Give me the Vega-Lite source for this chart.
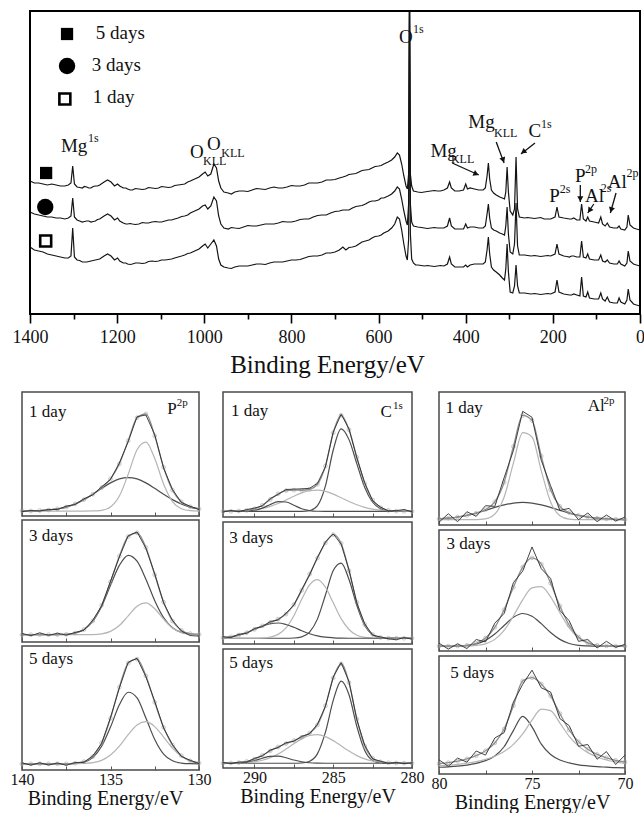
{
"$schema":"https://vega.github.io/schema/vega-lite/v6.json",
"padding":{"left":9,"top":10,"right":0,"bottom":0},
"config":{"font":"Liberation Serif, Times New Roman, Times, DejaVu Serif, serif","view":{"stroke":null},
 "axis":{"labelFont":"Liberation Serif, Times New Roman, Times, DejaVu Serif, serif","titleFont":"Liberation Serif, Times New Roman, Times, DejaVu Serif, serif","labelColor":"#111","titleColor":"#111","titleFontWeight":"normal","grid":false,"labelFlush":false},
 "text":{"font":"Liberation Serif, Times New Roman, Times, DejaVu Serif, serif","color":"#111"}},
"datasets":{
"survey":[
{"e":1400,"d5":133,"d3":102,"d1":67},{"e":1390,"d5":131,"d3":100,"d1":64},{"e":1380,"d5":131,"d3":99,"d1":63},{"e":1370,"d5":130,"d3":98,"d1":62},{"e":1360,"d5":129,"d3":97,"d1":60},{"e":1350,"d5":130,"d3":97,"d1":59},{"e":1340,"d5":129,"d3":96,"d1":58},{"e":1330,"d5":128,"d3":96,"d1":57},{"e":1320,"d5":128,"d3":95,"d1":56},{"e":1312,"d5":129,"d3":96,"d1":56},{"e":1306,"d5":131,"d3":98,"d1":58},{"e":1302,"d5":148,"d3":116,"d1":86},{"e":1298,"d5":130,"d3":97,"d1":57},{"e":1292,"d5":127,"d3":94,"d1":54},{"e":1280,"d5":126,"d3":92,"d1":52},{"e":1270,"d5":127,"d3":93,"d1":52},{"e":1260,"d5":126,"d3":92,"d1":53},{"e":1250,"d5":128,"d3":93,"d1":54},{"e":1240,"d5":129,"d3":95,"d1":55},{"e":1230,"d5":132,"d3":98,"d1":58},{"e":1222,"d5":134,"d3":100,"d1":60},{"e":1214,"d5":132,"d3":98,"d1":58},{"e":1206,"d5":128,"d3":94,"d1":54},{"e":1199,"d5":130,"d3":96,"d1":56},{"e":1194,"d5":128,"d3":93,"d1":53},{"e":1186,"d5":126,"d3":91,"d1":51},{"e":1176,"d5":125,"d3":90,"d1":50},{"e":1165,"d5":124,"d3":90,"d1":50},{"e":1150,"d5":125,"d3":90,"d1":51},{"e":1135,"d5":125,"d3":91,"d1":51},{"e":1120,"d5":126,"d3":92,"d1":53},{"e":1105,"d5":126,"d3":92,"d1":53},{"e":1090,"d5":127,"d3":93,"d1":54},{"e":1075,"d5":127,"d3":94,"d1":55},{"e":1060,"d5":129,"d3":96,"d1":57},{"e":1045,"d5":130,"d3":98,"d1":59},{"e":1032,"d5":133,"d3":101,"d1":61},{"e":1022,"d5":135,"d3":103,"d1":63},{"e":1012,"d5":137,"d3":105,"d1":65},{"e":1004,"d5":140,"d3":108,"d1":68},{"e":998,"d5":142,"d3":109,"d1":70},{"e":992,"d5":138,"d3":105,"d1":66},{"e":985,"d5":140,"d3":108,"d1":70},{"e":978,"d5":150,"d3":117,"d1":74},{"e":972,"d5":146,"d3":113,"d1":68},{"e":967,"d5":133,"d3":98,"d1":55},{"e":962,"d5":126,"d3":90,"d1":49},{"e":955,"d5":122,"d3":86,"d1":47},{"e":945,"d5":121,"d3":85,"d1":46},{"e":930,"d5":122,"d3":86,"d1":47},{"e":910,"d5":123,"d3":87,"d1":48},{"e":890,"d5":124,"d3":88,"d1":49},{"e":870,"d5":125,"d3":89,"d1":50},{"e":850,"d5":126,"d3":90,"d1":51},{"e":830,"d5":126,"d3":91,"d1":52},{"e":810,"d5":127,"d3":92,"d1":53},{"e":790,"d5":128,"d3":93,"d1":54},{"e":770,"d5":129,"d3":95,"d1":56},{"e":750,"d5":131,"d3":97,"d1":58},{"e":730,"d5":132,"d3":99,"d1":59},{"e":710,"d5":134,"d3":101,"d1":61},{"e":690,"d5":136,"d3":103,"d1":64},{"e":682,"d5":137,"d3":104,"d1":67},{"e":675,"d5":138,"d3":104,"d1":64},{"e":660,"d5":140,"d3":106,"d1":67},{"e":645,"d5":142,"d3":108,"d1":70},{"e":630,"d5":144,"d3":110,"d1":73},{"e":615,"d5":146,"d3":113,"d1":76},{"e":600,"d5":148,"d3":114,"d1":78},{"e":588,"d5":150,"d3":116,"d1":81},{"e":578,"d5":152,"d3":118,"d1":83},{"e":570,"d5":154,"d3":120,"d1":86},{"e":563,"d5":157,"d3":123,"d1":90},{"e":557,"d5":161,"d3":127,"d1":97},{"e":552,"d5":159,"d3":125,"d1":95},{"e":547,"d5":150,"d3":115,"d1":84},{"e":542,"d5":138,"d3":103,"d1":70},{"e":537,"d5":128,"d3":93,"d1":58},{"e":534,"d5":125,"d3":89,"d1":54},{"e":531,"d5":140,"d3":110,"d1":75},{"e":529,"d5":320,"d3":320,"d1":320},{"e":527,"d5":140,"d3":110,"d1":80},{"e":524,"d5":128,"d3":92,"d1":55},{"e":520,"d5":123,"d3":88,"d1":51},{"e":510,"d5":122,"d3":87,"d1":49},{"e":495,"d5":122,"d3":86,"d1":48},{"e":480,"d5":123,"d3":86,"d1":48},{"e":465,"d5":123,"d3":86,"d1":48},{"e":450,"d5":124,"d3":86,"d1":48},{"e":442,"d5":126,"d3":88,"d1":50},{"e":437,"d5":132,"d3":96,"d1":57},{"e":433,"d5":126,"d3":88,"d1":50},{"e":425,"d5":123,"d3":85,"d1":47},{"e":415,"d5":123,"d3":85,"d1":47},{"e":405,"d5":124,"d3":85,"d1":47},{"e":400,"d5":130,"d3":90,"d1":49},{"e":396,"d5":125,"d3":86,"d1":47},{"e":390,"d5":126,"d3":87,"d1":49},{"e":380,"d5":125,"d3":87,"d1":50},{"e":370,"d5":124,"d3":86,"d1":50},{"e":360,"d5":124,"d3":86,"d1":50},{"e":355,"d5":126,"d3":88,"d1":52},{"e":351,"d5":138,"d3":100,"d1":64},{"e":348,"d5":151,"d3":110,"d1":77},{"e":345,"d5":135,"d3":96,"d1":60},{"e":341,"d5":124,"d3":86,"d1":47},{"e":336,"d5":121,"d3":84,"d1":44},{"e":330,"d5":119,"d3":83,"d1":42},{"e":322,"d5":117,"d3":81,"d1":39},{"e":316,"d5":116,"d3":80,"d1":36},{"e":311,"d5":115,"d3":79,"d1":34},{"e":308,"d5":122,"d3":88,"d1":45},{"e":305,"d5":147,"d3":107,"d1":70},{"e":302,"d5":122,"d3":80,"d1":42},{"e":298,"d5":103,"d3":62,"d1":22},{"e":292,"d5":99,"d3":60,"d1":21},{"e":288,"d5":105,"d3":70,"d1":28},{"e":284.5,"d5":157,"d3":111,"d1":49},{"e":281,"d5":105,"d3":68,"d1":28},{"e":277,"d5":97,"d3":59,"d1":21},{"e":265,"d5":96,"d3":59,"d1":21},{"e":250,"d5":96,"d3":58,"d1":20},{"e":235,"d5":96,"d3":58,"d1":20},{"e":220,"d5":95,"d3":58,"d1":20},{"e":205,"d5":95,"d3":58,"d1":20},{"e":195,"d5":97,"d3":60,"d1":22},{"e":190.5,"d5":107,"d3":70,"d1":34},{"e":186,"d5":97,"d3":60,"d1":22},{"e":175,"d5":96,"d3":58,"d1":20},{"e":162,"d5":95,"d3":57,"d1":19},{"e":152,"d5":96,"d3":58,"d1":20},{"e":145,"d5":94,"d3":57,"d1":19},{"e":138,"d5":94,"d3":57,"d1":18},{"e":134,"d5":110,"d3":73,"d1":37},{"e":130,"d5":95,"d3":57,"d1":18},{"e":124,"d5":93,"d3":56,"d1":17},{"e":120,"d5":97,"d3":60,"d1":22},{"e":116,"d5":93,"d3":55,"d1":16},{"e":105,"d5":92,"d3":54,"d1":15},{"e":95,"d5":91,"d3":54,"d1":15},{"e":90,"d5":97,"d3":59,"d1":21},{"e":86,"d5":90,"d3":53,"d1":15},{"e":80,"d5":88,"d3":52,"d1":13},{"e":75,"d5":91,"d3":54,"d1":17},{"e":70,"d5":87,"d3":51,"d1":12},{"e":60,"d5":86,"d3":50,"d1":11},{"e":52,"d5":86,"d3":50,"d1":11},{"e":48,"d5":88,"d3":53,"d1":16},{"e":44,"d5":85,"d3":50,"d1":12},{"e":35,"d5":84,"d3":48,"d1":10},{"e":30,"d5":87,"d3":51,"d1":14},{"e":27,"d5":99,"d3":63,"d1":25},{"e":23,"d5":89,"d3":53,"d1":14},{"e":15,"d5":86,"d3":50,"d1":10},{"e":8,"d5":85,"d3":49,"d1":9},{"e":0,"d5":84,"d3":48,"d1":8},
{"e":938,"d5":120,"d3":86.5,"d1":45.5},{"e":920,"d5":123,"d3":85.5,"d1":48},{"e":900,"d5":122.5,"d3":88.5,"d1":48},{"e":880,"d5":125.5,"d3":88,"d1":50},{"e":860,"d5":124.5,"d3":90,"d1":49.5},{"e":840,"d5":127,"d3":90,"d1":52},{"e":820,"d5":126,"d3":92.5,"d1":52},{"e":800,"d5":128.5,"d3":92,"d1":54},{"e":780,"d5":128,"d3":94.5,"d1":54.5},{"e":760,"d5":131,"d3":95,"d1":57.5},{"e":740,"d5":131,"d3":98.5,"d1":58},{"e":720,"d5":134,"d3":99,"d1":61},{"e":700,"d5":134.5,"d3":102.5,"d1":62},{"e":668,"d5":139.5,"d3":104,"d1":66.5},{"e":652,"d5":140.5,"d3":107.5,"d1":68},{"e":638,"d5":143.5,"d3":108.5,"d1":72},{"e":622,"d5":144.5,"d3":112,"d1":74},{"e":608,"d5":147.5,"d3":113,"d1":77.5},{"e":594,"d5":148.5,"d3":116,"d1":79},
{"e":1180,"d5":126,"d3":90,"d1":51},{"e":1170,"d5":124,"d3":90.5,"d1":49.5},{"e":1158,"d5":125.5,"d3":89.5,"d1":51},{"e":1142,"d5":124.5,"d3":91.5,"d1":50.5},{"e":1128,"d5":126.5,"d3":91,"d1":52.5},{"e":1112,"d5":125.5,"d3":92.5,"d1":52.5},{"e":1098,"d5":127.5,"d3":92,"d1":54},{"e":1082,"d5":126.5,"d3":94,"d1":54.5},{"e":1068,"d5":128.5,"d3":95,"d1":56},{"e":1052,"d5":129.5,"d3":97.5,"d1":58},{"e":1038,"d5":132,"d3":99,"d1":60.5},
{"e":1286,"d5":126.5,"d3":93,"d1":53.5},{"e":1275,"d5":127.5,"d3":92.5,"d1":52},{"e":1265,"d5":126,"d3":93,"d1":52.5},{"e":1255,"d5":127.5,"d3":92.5,"d1":53.5},{"e":1245,"d5":128,"d3":94.5,"d1":54.5},
{"e":515,"d5":122.5,"d3":87.5,"d1":49},{"e":502,"d5":121.5,"d3":86.5,"d1":48.5},{"e":488,"d5":122.5,"d3":85.5,"d1":48.5},{"e":472,"d5":123.5,"d3":86.5,"d1":47.5},{"e":458,"d5":123,"d3":86,"d1":48.5},
{"e":258,"d5":96.5,"d3":58.5,"d1":20.5},{"e":242,"d5":95.5,"d3":58.5,"d1":20.5},{"e":228,"d5":96.5,"d3":57.5,"d1":19.5},{"e":212,"d5":95,"d3":58.5,"d1":20.5},{"e":168,"d5":95.5,"d3":57.5,"d1":19.5},{"e":157,"d5":95,"d3":58,"d1":19}
],
"lbl":[
{"e":1249,"y":275,"t":"5 days","k":"m"},{"e":1258,"y":243,"t":"3 days","k":"m"},{"e":1256,"y":211,"t":"1 day","k":"m"},
{"e":1329,"y":162,"t":"Mg","k":"m"},{"e":1267,"y":172,"t":"1s","k":"s"},
{"e":1033,"y":156,"t":"O","k":"m"},{"e":1003,"y":149,"t":"KLL","k":"s"},
{"e":994,"y":164,"t":"O","k":"m"},{"e":961,"y":157,"t":"KLL","k":"s"},
{"e":553,"y":271,"t":"O","k":"m"},{"e":521,"y":281,"t":"1s","k":"s"},
{"e":481,"y":157,"t":"Mg","k":"m"},{"e":434,"y":151,"t":"KLL","k":"s"},
{"e":394,"y":186,"t":"Mg","k":"m"},{"e":335,"y":177,"t":"KLL","k":"s"},
{"e":256,"y":177,"t":"C","k":"m"},{"e":227,"y":186,"t":"1s","k":"s"},
{"e":208,"y":112,"t":"P","k":"m"},{"e":184,"y":121,"t":"2s","k":"s"},
{"e":149,"y":132,"t":"P","k":"m"},{"e":126,"y":141,"t":"2p","k":"s"},
{"e":126,"y":112,"t":"Al","k":"m"},{"e":90,"y":122,"t":"2s","k":"s"},
{"e":74,"y":126,"t":"Al","k":"m"},{"e":31,"y":137,"t":"2p","k":"s"}
],
"sym":[
{"e":1315,"y":280,"k":"fsq"},{"e":1315,"y":248,"k":"fci"},{"e":1320,"y":215,"k":"osq"},
{"e":1363,"y":141,"k":"fsq"},{"e":1365,"y":107,"k":"fci"},{"e":1364,"y":73,"k":"osq"}
],
"arr":[
{"e":431,"y":151,"e2":370,"y2":139,"he":376,"hy":140,"ang":114},
{"e":330,"y":172,"e2":312,"y2":151,"he":314,"hy":154,"ang":160},
{"e":241,"y":171,"e2":273,"y2":160,"he":268,"hy":162,"ang":233},
{"e":137,"y":129,"e2":137,"y2":112,"he":137,"hy":115,"ang":180},
{"e":106,"y":110,"e2":120,"y2":101,"he":116,"hy":103.5,"ang":214},
{"e":55,"y":121,"e2":68,"y2":101,"he":66,"hy":104,"ang":196}
],
"P1":[
{"e":140,"raw":3.5,"env":4.1,"dk":4.1,"lt":4},{"e":139.5,"raw":4.4,"env":4.1,"dk":4.1,"lt":4},{"e":139,"raw":4.0,"env":4.4,"dk":4.4,"lt":4},{"e":138.5,"raw":5.3,"env":4.8,"dk":4.8,"lt":4},{"e":138,"raw":5.2,"env":5.7,"dk":5.7,"lt":4},{"e":137.5,"raw":8.0,"env":7.2,"dk":7.2,"lt":4},{"e":137,"raw":9.2,"env":9.7,"dk":9.7,"lt":4},{"e":136.5,"raw":13.9,"env":13.2,"dk":13.2,"lt":4},{"e":136,"raw":17.0,"env":17.6,"dk":17.5,"lt":4.1},{"e":135.5,"raw":23.6,"env":22.9,"dk":22.3,"lt":4.6},{"e":135,"raw":29.4,"env":30.0,"dk":26.7,"lt":7.3},{"e":134.5,"raw":42.8,"env":42.0,"dk":29.9,"lt":16.1},{"e":134,"raw":60.0,"env":60.7,"dk":31.0,"lt":33.7},{"e":133.5,"raw":80.1,"env":79.3,"dk":29.9,"lt":53.4},{"e":133,"raw":81.5,"env":82.3,"dk":26.7,"lt":59.6},{"e":132.5,"raw":65.5,"env":64.6,"dk":22.3,"lt":46.3},{"e":132,"raw":38.6,"env":39.3,"dk":17.5,"lt":25.8},{"e":131.5,"raw":21.5,"env":20.8,"dk":13.2,"lt":11.6},{"e":131,"raw":10.9,"env":11.5,"dk":9.7,"lt":5.8},{"e":130.5,"raw":7.9,"env":7.5,"dk":7.2,"lt":4.3},{"e":130,"raw":5.2,"env":5.7,"dk":5.7,"lt":4}
],
"P3":[
{"e":140,"raw":7.0,"env":6,"dk":6,"lt":6},{"e":139.5,"raw":5.2,"env":6,"dk":6,"lt":6},{"e":139,"raw":7.5,"env":6,"dk":6,"lt":6},{"e":138.5,"raw":5.5,"env":6,"dk":6,"lt":6},{"e":138,"raw":7.2,"env":6.1,"dk":6.1,"lt":6},{"e":137.5,"raw":5.6,"env":6.3,"dk":6.3,"lt":6},{"e":137,"raw":7.8,"env":7.3,"dk":7.3,"lt":6},{"e":136.5,"raw":9.6,"env":10.2,"dk":10.2,"lt":6},{"e":136,"raw":17.9,"env":17.2,"dk":17.1,"lt":6.1},{"e":135.5,"raw":29.5,"env":30.1,"dk":29.4,"lt":6.7},{"e":135,"raw":49.9,"env":49.2,"dk":46.5,"lt":8.7},{"e":134.5,"raw":69.6,"env":70.3,"dk":62.8,"lt":13.5},{"e":134,"raw":87.1,"env":86.4,"dk":71,"lt":21.4},{"e":133.5,"raw":90.2,"env":89.5,"dk":66.2,"lt":29.3},{"e":133,"raw":76.8,"env":77.5,"dk":51.5,"lt":32},{"e":132.5,"raw":55.9,"env":55.1,"dk":33.9,"lt":27.2},{"e":132,"raw":32.0,"env":32.7,"dk":20,"lt":18.7},{"e":131.5,"raw":17.9,"env":17.2,"dk":11.7,"lt":11.5},{"e":131,"raw":9.0,"env":9.7,"dk":7.9,"lt":7.8},{"e":130.5,"raw":5.3,"env":6.9,"dk":6.5,"lt":6.4},{"e":130,"raw":4.8,"env":6.2,"dk":6.1,"lt":6.1}
],
"P5":[
{"e":140,"raw":5.8,"env":5,"dk":5,"lt":5},{"e":139.5,"raw":3.9,"env":5,"dk":5,"lt":5},{"e":139,"raw":5.9,"env":5,"dk":5,"lt":5},{"e":138.5,"raw":4.0,"env":5,"dk":5,"lt":5},{"e":138,"raw":5.7,"env":5,"dk":5,"lt":5},{"e":137.5,"raw":3.8,"env":5,"dk":5,"lt":5},{"e":137,"raw":6.0,"env":5.4,"dk":5.3,"lt":5.1},{"e":136.5,"raw":6.2,"env":6.7,"dk":6.4,"lt":5.3},{"e":136,"raw":11.5,"env":10.9,"dk":10,"lt":5.9},{"e":135.5,"raw":21.3,"env":21.9,"dk":19.1,"lt":7.8},{"e":135,"raw":42.4,"env":41.7,"dk":34.6,"lt":12.1},{"e":134.5,"raw":66.1,"env":66.8,"dk":52.6,"lt":19.2},{"e":134,"raw":86.9,"env":86.2,"dk":62.7,"lt":28.5},{"e":133.5,"raw":90.1,"env":89.4,"dk":58.1,"lt":36.3},{"e":133,"raw":75.2,"env":75.9,"dk":41.9,"lt":39},{"e":132.5,"raw":55.3,"env":54.6,"dk":24.6,"lt":35},{"e":132,"raw":33.8,"env":34.4,"dk":12.8,"lt":26.6},{"e":131.5,"raw":20.6,"env":20.0,"dk":7.4,"lt":17.6},{"e":131,"raw":11.0,"env":11.6,"dk":5.6,"lt":11},{"e":130.5,"raw":7.9,"env":7.4,"dk":5.1,"lt":7.3},{"e":130,"raw":5.2,"env":5.7,"dk":5,"lt":5.7}
],
"C1":[
{"e":292,"raw":4.0,"env":4.5,"dk":4.5,"lt":4.5,"dk2":4.5},{"e":291.5,"raw":5.2,"env":4.6,"dk":4.5,"lt":4.6,"dk2":4.5},{"e":291,"raw":4.3,"env":4.8,"dk":4.5,"lt":4.8,"dk2":4.5},{"e":290.5,"raw":5.9,"env":5.3,"dk":4.5,"lt":5.1,"dk2":4.7},{"e":290,"raw":7.2,"env":6.5,"dk":4.5,"lt":5.7,"dk2":5.3},{"e":289.5,"raw":8.8,"env":9.4,"dk":4.5,"lt":6.8,"dk2":7.1},{"e":289,"raw":14.8,"env":14.0,"dk":4.5,"lt":8.5,"dk2":10.0},{"e":288.5,"raw":18.0,"env":18.6,"dk":4.5,"lt":10.8,"dk2":12.3},{"e":288,"raw":22.0,"env":21.1,"dk":4.5,"lt":13.6,"dk2":12.0},{"e":287.5,"raw":22.3,"env":21.5,"dk":4.5,"lt":16.6,"dk2":9.4},{"e":287,"raw":22.5,"env":21.4,"dk":4.5,"lt":19.3,"dk2":6.6},{"e":286.5,"raw":23.0,"env":22.2,"dk":5.1,"lt":21.0,"dk2":5.1},{"e":286,"raw":27.0,"env":26.2,"dk":9.1,"lt":21.5,"dk2":4.6},{"e":285.5,"raw":40.0,"env":40.7,"dk":24.7,"lt":20.5,"dk2":4.5},{"e":285,"raw":68.1,"env":67.4,"dk":53.6,"lt":18.3,"dk2":4.5},{"e":284.5,"raw":82.2,"env":81.4,"dk":70.5,"lt":15.4,"dk2":4.5},{"e":284,"raw":70.5,"env":69.8,"dk":61.9,"lt":12.4,"dk2":4.5},{"e":283.5,"raw":47.1,"env":47.8,"dk":42.5,"lt":9.8,"dk2":4.5},{"e":283,"raw":27.4,"env":26.7,"dk":23.5,"lt":7.7,"dk2":4.5},{"e":282.5,"raw":13.0,"env":13.6,"dk":11.8,"lt":6.3,"dk2":4.5},{"e":282,"raw":8.0,"env":7.5,"dk":6.6,"lt":5.4,"dk2":4.5},{"e":281.5,"raw":4.8,"env":5.3,"dk":4.9,"lt":4.9,"dk2":4.5},{"e":281,"raw":5.1,"env":4.7,"dk":4.5,"lt":4.7,"dk2":4.5},{"e":280.5,"raw":6.0,"env":4.6,"dk":4.5,"lt":4.6,"dk2":4.5},{"e":280,"raw":4.2,"env":4.5,"dk":4.5,"lt":4.5,"dk2":4.5}
],
"C3":[
{"e":292,"raw":6.0,"env":5.2,"dk":4.7,"lt":4.7,"dk2":5.2},{"e":291.5,"raw":5.3,"env":5.9,"dk":4.7,"lt":4.7,"dk2":5.9},{"e":291,"raw":8.0,"env":7.3,"dk":4.7,"lt":4.7,"dk2":7.3},{"e":290.5,"raw":8.6,"env":9.3,"dk":4.7,"lt":4.7,"dk2":9.3},{"e":290,"raw":12.8,"env":12.0,"dk":4.7,"lt":4.7,"dk2":12.0},{"e":289.5,"raw":14.2,"env":14.9,"dk":4.7,"lt":4.9,"dk2":14.7},{"e":289,"raw":18.5,"env":17.6,"dk":4.7,"lt":5.6,"dk2":16.7},{"e":288.5,"raw":19.6,"env":20.4,"dk":4.7,"lt":7.9,"dk2":17.2},{"e":288,"raw":25.3,"env":24.5,"dk":4.7,"lt":13.2,"dk2":16.0},{"e":287.5,"raw":31.7,"env":32.4,"dk":4.9,"lt":23.2,"dk2":13.7},{"e":287,"raw":44.8,"env":44.0,"dk":5.9,"lt":36.6,"dk2":10.9},{"e":286.5,"raw":56.6,"env":57.3,"dk":9.8,"lt":48.5,"dk2":8.4},{"e":286,"raw":71.2,"env":70.5,"dk":20.6,"lt":52.7,"dk2":6.6},{"e":285.5,"raw":83.6,"env":82.8,"dk":40.0,"lt":46.6,"dk2":5.6},{"e":285,"raw":90.3,"env":89.7,"dk":60.2,"lt":33.8,"dk2":5.1},{"e":284.5,"raw":81.8,"env":82.5,"dk":66.3,"lt":20.8,"dk2":4.8},{"e":284,"raw":60.8,"env":60.1,"dk":52.9,"lt":11.9,"dk2":4.7},{"e":283.5,"raw":33.4,"env":34.1,"dk":31.6,"lt":7.2,"dk2":4.7},{"e":283,"raw":16.6,"env":15.9,"dk":15.2,"lt":5.4,"dk2":4.7},{"e":282.5,"raw":7.2,"env":7.8,"dk":7.6,"lt":4.9,"dk2":4.7},{"e":282,"raw":5.9,"env":5.3,"dk":5.3,"lt":4.7,"dk2":4.7},{"e":281.5,"raw":4.2,"env":4.8,"dk":4.8,"lt":4.7,"dk2":4.7},{"e":281,"raw":3.5,"env":4.7,"dk":4.7,"lt":4.7,"dk2":4.7},{"e":280.5,"raw":5.2,"env":4.7,"dk":4.7,"lt":4.7,"dk2":4.7},{"e":280,"raw":4.0,"env":4.7,"dk":4.7,"lt":4.7,"dk2":4.7}
],
"C5":[
{"e":292,"raw":4.6,"env":4,"dk":4,"lt":4,"dk2":4},{"e":291.5,"raw":3.7,"env":4.2,"dk":4,"lt":4.1,"dk2":4.1},{"e":291,"raw":5.0,"env":4.5,"dk":4,"lt":4.2,"dk2":4.3},{"e":290.5,"raw":5.0,"env":5.5,"dk":4,"lt":4.5,"dk2":5.0},{"e":290,"raw":8.1,"env":7.5,"dk":4,"lt":5.2,"dk2":6.3},{"e":289.5,"raw":10.1,"env":10.7,"dk":4,"lt":6.5,"dk2":8.2},{"e":289,"raw":15.1,"env":14.4,"dk":4,"lt":8.7,"dk2":9.7},{"e":288.5,"raw":17.1,"env":17.7,"dk":4,"lt":11.8,"dk2":9.9},{"e":288,"raw":21.3,"env":20.5,"dk":4,"lt":15.9,"dk2":8.6},{"e":287.5,"raw":22.4,"env":23.1,"dk":4,"lt":20.4,"dk2":6.7},{"e":287,"raw":26.7,"env":25.9,"dk":4.2,"lt":24.5,"dk2":5.2},{"e":286.5,"raw":28.7,"env":29.4,"dk":5.7,"lt":27.3,"dk2":4.4},{"e":286,"raw":37.0,"env":36.2,"dk":12.1,"lt":28,"dk2":4.1},{"e":285.5,"raw":51.6,"env":52.3,"dk":29.9,"lt":26.4,"dk2":4},{"e":285,"raw":76.5,"env":75.8,"dk":56.8,"lt":23,"dk2":4},{"e":284.5,"raw":88.5,"env":87.6,"dk":73,"lt":18.6,"dk2":4},{"e":284,"raw":72.6,"env":71.8,"dk":61.6,"lt":14.2,"dk2":4},{"e":283.5,"raw":40.4,"env":41.2,"dk":34.8,"lt":10.4,"dk2":4},{"e":283,"raw":19.1,"env":18.4,"dk":14.7,"lt":7.7,"dk2":4},{"e":282.5,"raw":7.6,"env":8.2,"dk":6.3,"lt":5.9,"dk2":4},{"e":282,"raw":5.8,"env":5.2,"dk":4.3,"lt":4.9,"dk2":4},{"e":281.5,"raw":3.9,"env":4.4,"dk":4,"lt":4.4,"dk2":4},{"e":281,"raw":4.6,"env":4.2,"dk":4,"lt":4.2,"dk2":4},{"e":280.5,"raw":3.7,"env":4.1,"dk":4,"lt":4.1,"dk2":4},{"e":280,"raw":4.3,"env":4,"dk":4,"lt":4,"dk2":4}
],
"A1":[
{"e":80,"raw":2.0,"env":4.6,"dk":4.6,"lt":4},{"e":79.5,"raw":8.5,"env":5.1,"dk":5.1,"lt":4},{"e":79,"raw":2.5,"env":6.0,"dk":6.0,"lt":4},{"e":78.5,"raw":10.0,"env":7.2,"dk":7.2,"lt":4},{"e":78,"raw":6.5,"env":8.9,"dk":8.9,"lt":4},{"e":77.5,"raw":14.5,"env":11.6,"dk":11.0,"lt":4.6},{"e":77,"raw":14.0,"env":17.4,"dk":13.2,"lt":8.2},{"e":76.5,"raw":35.5,"env":32.0,"dk":15.1,"lt":20.9},{"e":76,"raw":56.0,"env":59.0,"dk":16.5,"lt":46.5},{"e":75.5,"raw":85.5,"env":82.4,"dk":17,"lt":69.4},{"e":75,"raw":81.0,"env":78.7,"dk":16.5,"lt":66.2},{"e":74.5,"raw":48.5,"env":51.8,"dk":15.1,"lt":40.7},{"e":74,"raw":29.5,"env":26.5,"dk":13.2,"lt":17.3},{"e":73.5,"raw":11.0,"env":14.0,"dk":11.0,"lt":7.0},{"e":73,"raw":12.5,"env":9.3,"dk":8.9,"lt":4.4},{"e":72.5,"raw":4.0,"env":7.2,"dk":7.2,"lt":4},{"e":72,"raw":9.0,"env":6.0,"dk":6.0,"lt":4},{"e":71.5,"raw":2.5,"env":5.1,"dk":5.1,"lt":4},{"e":71,"raw":7.5,"env":4.6,"dk":4.6,"lt":4},{"e":70.5,"raw":3.0,"env":4.3,"dk":4.3,"lt":4},{"e":70,"raw":6.0,"env":4.1,"dk":4.1,"lt":4}
],
"A3":[
{"e":80,"raw":6.5,"env":4,"dk":4,"lt":4},{"e":79.5,"raw":1.5,"env":4,"dk":4,"lt":4},{"e":79,"raw":6.0,"env":4.1,"dk":4.1,"lt":4},{"e":78.5,"raw":2.0,"env":4.7,"dk":4.6,"lt":4.1},{"e":78,"raw":9.5,"env":6.4,"dk":5.8,"lt":4.6},{"e":77.5,"raw":7.5,"env":10.7,"dk":8.8,"lt":5.9},{"e":77,"raw":23.0,"env":19.6,"dk":14.0,"lt":9.6},{"e":76.5,"raw":31.0,"env":34.1,"dk":21.1,"lt":17.0},{"e":76,"raw":56.5,"env":52.7,"dk":27.8,"lt":28.9},{"e":75.5,"raw":66.0,"env":69.3,"dk":31,"lt":42.3},{"e":75,"raw":86.0,"env":77.0,"dk":28.8,"lt":52.2},{"e":74.5,"raw":68.0,"env":71.8,"dk":22.6,"lt":53.2},{"e":74,"raw":60.0,"env":56.1,"dk":15.3,"lt":44.8},{"e":73.5,"raw":33.5,"env":37.2,"dk":9.6,"lt":31.6},{"e":73,"raw":25.0,"env":21.3,"dk":6.2,"lt":19.1},{"e":72.5,"raw":8.0,"env":11.5,"dk":4.7,"lt":10.8},{"e":72,"raw":9.5,"env":6.7,"dk":4.2,"lt":6.5},{"e":71.5,"raw":2.5,"env":4.7,"dk":4,"lt":4.7},{"e":71,"raw":8.0,"env":4.2,"dk":4,"lt":4.2},{"e":70.5,"raw":3.0,"env":4,"dk":4,"lt":4},{"e":70,"raw":5.5,"env":4,"dk":4,"lt":4}
],
"A5":[
{"e":80,"raw":12.0,"env":8.7,"dk":5.7,"lt":7.0},{"e":79.5,"raw":6.5,"env":9.6,"dk":6.1,"lt":7.5},{"e":79,"raw":13.5,"env":10.9,"dk":6.7,"lt":8.2},{"e":78.5,"raw":10.0,"env":12.8,"dk":7.6,"lt":9.2},{"e":78,"raw":19.5,"env":15.5,"dk":9.0,"lt":10.5},{"e":77.5,"raw":16.0,"env":19.7,"dk":11.3,"lt":12.4},{"e":77,"raw":30.5,"env":26.3,"dk":15.3,"lt":15.0},{"e":76.5,"raw":35.0,"env":38.1,"dk":23.1,"lt":19.0},{"e":76,"raw":61.0,"env":57.9,"dk":36.8,"lt":25.1},{"e":75.5,"raw":76.0,"env":78.9,"dk":48.9,"lt":34.0},{"e":75,"raw":88.0,"env":81.6,"dk":40.0,"lt":45.6},{"e":74.5,"raw":73.0,"env":76.3,"dk":25.3,"lt":55.0},{"e":74,"raw":69.5,"env":66.2,"dk":16.5,"lt":53.7},{"e":73.5,"raw":47.0,"env":51.1,"dk":11.9,"lt":43.2},{"e":73,"raw":41.0,"env":37.3,"dk":9.4,"lt":31.9},{"e":72.5,"raw":23.5,"env":27.4,"dk":7.8,"lt":23.6},{"e":72,"raw":25.0,"env":21.0,"dk":6.9,"lt":18.1},{"e":71.5,"raw":12.5,"env":16.6,"dk":6.2,"lt":14.4},{"e":71,"raw":19.0,"env":13.7,"dk":5.8,"lt":11.9},{"e":70.5,"raw":8.0,"env":11.6,"dk":5.4,"lt":10.2},{"e":70,"raw":16.0,"env":10.2,"dk":5.2,"lt":9.0}
]
},
"resolve":{"scale":{"x":"independent","y":"independent"}},
"spacing":14,
"vconcat":[
{
"width":618,"height":303,
"view":{"stroke":null},
"resolve":{"axis":{"x":"independent"}},
"layer":[
{"data":{"name":"survey"},"transform":[{"fold":["d5","d3","d1"],"as":["s","y"]}],
 "mark":{"type":"line","clip":true,"color":"#141414","strokeWidth":1.2},
 "encoding":{
  "x":{"field":"e","type":"quantitative","scale":{"domain":[0,1400],"reverse":true,"nice":false,"zero":false,"range":[8,618]},
   "axis":{"orient":"bottom","values":[0,200,400,600,800,1000,1200,1400],"format":"d","labelFlush":false,"tickSize":9,"tickWidth":1.6,"tickColor":"#000","domain":false,"labelFontSize":18,"labelPadding":5,"labelColor":"#111","title":"Binding Energy/eV","titleFontSize":25,"titlePadding":6,"titleX":305}},
  "y":{"field":"y","type":"quantitative","scale":{"domain":[0,303],"nice":false,"zero":false},"axis":null},
  "detail":{"field":"s"}}},
{"data":{"name":"arr"},"mark":{"type":"rule","color":"#111","strokeWidth":1.3},
 "encoding":{
  "x":{"field":"e","type":"quantitative","axis":{"orient":"bottom","values":[100,300,500,700,900,1100,1300],"tickSize":5,"tickWidth":1.6,"tickColor":"#000","labels":false,"domain":false,"title":null}},
  "y":{"field":"y","type":"quantitative"},
  "x2":{"field":"e2"},"y2":{"field":"y2"}}},
{"data":{"name":"arr"},"mark":{"type":"point","shape":"triangle-up","filled":true,"color":"#111","size":38,"opacity":1},
 "encoding":{"x":{"field":"he","type":"quantitative","axis":null},"y":{"field":"hy","type":"quantitative"},"angle":{"field":"ang","type":"quantitative","scale":null}}},
{"data":{"name":"sym"},"transform":[{"filter":"datum.k === 'fsq'"}],"mark":{"type":"point","shape":"square","filled":true,"color":"#000","size":150,"opacity":1},
 "encoding":{"x":{"field":"e","type":"quantitative","axis":null},"y":{"field":"y","type":"quantitative"}}},
{"data":{"name":"sym"},"transform":[{"filter":"datum.k === 'fci'"}],"mark":{"type":"point","shape":"circle","filled":true,"color":"#000","size":270,"opacity":1},
 "encoding":{"x":{"field":"e","type":"quantitative","axis":null},"y":{"field":"y","type":"quantitative"}}},
{"data":{"name":"sym"},"transform":[{"filter":"datum.k === 'osq'"}],"mark":{"type":"point","shape":"square","filled":false,"color":"#000","size":120,"strokeWidth":2.6,"opacity":1},
 "encoding":{"x":{"field":"e","type":"quantitative","axis":null},"y":{"field":"y","type":"quantitative"}}},
{"data":{"name":"lbl"},"transform":[{"filter":"datum.k === 'm'"}],"mark":{"type":"text","align":"left","baseline":"alphabetic","fontSize":19,"color":"#111"},
 "encoding":{"x":{"field":"e","type":"quantitative","axis":null},"y":{"field":"y","type":"quantitative"},"text":{"field":"t"}}},
{"data":{"name":"lbl"},"transform":[{"filter":"datum.k === 's'"}],"mark":{"type":"text","align":"left","baseline":"alphabetic","fontSize":12,"color":"#111"},
 "encoding":{"x":{"field":"e","type":"quantitative","axis":null},"y":{"field":"y","type":"quantitative"},"text":{"field":"t"}}},
{"data":{"values":[{"e":1400,"e2":0,"y":0,"y2":303}]},"mark":{"type":"rect","filled":false,"stroke":"#000","strokeWidth":2},
 "encoding":{"x":{"field":"e","type":"quantitative","axis":null},"x2":{"field":"e2"},"y":{"field":"y","type":"quantitative"},"y2":{"field":"y2"}}}
]
},
{
"spacing":6,
"resolve":{"scale":{"x":"independent","y":"independent"}},
"hconcat":[
{"vconcat":[
 {"width":177,"height":124,"view":{"stroke":"#4a4a4a","strokeWidth":1.5},"data":{"name":"P1"},
  "encoding":{"x":{"field":"e","type":"quantitative","scale":{"domain":[130,140],"reverse":true,"nice":false,"zero":false},"axis":{"values":[140,137.5,135,132.5,130],"labels":false,"tickSize":-4,"tickColor":"#555","domain":false,"title":null}}},
  "layer":[
   {"transform":[{"fold":["dk","lt"],"as":["k","v"]}],"mark":{"type":"line","interpolate":"monotone","strokeWidth":1.2},"encoding":{"y":{"field":"v","type":"quantitative","scale":{"domain":[0,100],"nice":false,"zero":false},"axis":null},"detail":{"field":"k"},"color":{"field":"k","type":"nominal","scale":{"domain":["dk","lt","dk2"],"range":["#4d4d4d","#b5b5b5","#4d4d4d"]},"legend":null}}},
   {"mark":{"type":"line","interpolate":"monotone","color":"#8c8c8c","strokeWidth":1.3},"encoding":{"y":{"field":"env","type":"quantitative"}}},
   {"mark":{"type":"point","filled":false,"color":"#a0a0a0","size":14,"strokeWidth":0.8},"encoding":{"y":{"field":"env","type":"quantitative"}}},
   {"mark":{"type":"line","color":"#2e2e2e","strokeWidth":0.9},"encoding":{"y":{"field":"raw","type":"quantitative"}}},
   {"data":{"values":[{"e":139.6,"y":80,"t":"1 day"},{"e":131.8,"y":82,"t":"P"}]},"mark":{"type":"text","align":"left","baseline":"alphabetic","fontSize":17},"encoding":{"y":{"field":"y","type":"quantitative"},"text":{"field":"t"}}},
   {"data":{"values":[{"e":131.26,"y":88.5,"t":"2p"}]},"mark":{"type":"text","align":"left","baseline":"alphabetic","fontSize":11},"encoding":{"y":{"field":"y","type":"quantitative"},"text":{"field":"t"}}}
  ]},
 {"width":177,"height":122,"view":{"stroke":"#4a4a4a","strokeWidth":1.5},"data":{"name":"P3"},
  "encoding":{"x":{"field":"e","type":"quantitative","scale":{"domain":[130,140],"reverse":true,"nice":false,"zero":false},"axis":{"values":[140,137.5,135,132.5,130],"labels":false,"tickSize":-4,"tickColor":"#555","domain":false,"title":null}}},
  "layer":[
   {"transform":[{"fold":["dk","lt"],"as":["k","v"]}],"mark":{"type":"line","interpolate":"monotone","strokeWidth":1.2},"encoding":{"y":{"field":"v","type":"quantitative","scale":{"domain":[0,100],"nice":false,"zero":false},"axis":null},"detail":{"field":"k"},"color":{"field":"k","type":"nominal","scale":{"domain":["dk","lt","dk2"],"range":["#4d4d4d","#b5b5b5","#4d4d4d"]},"legend":null}}},
   {"mark":{"type":"line","interpolate":"monotone","color":"#8c8c8c","strokeWidth":1.3},"encoding":{"y":{"field":"env","type":"quantitative"}}},
   {"mark":{"type":"point","filled":false,"color":"#a0a0a0","size":14,"strokeWidth":0.8},"encoding":{"y":{"field":"env","type":"quantitative"}}},
   {"mark":{"type":"line","color":"#2e2e2e","strokeWidth":0.9},"encoding":{"y":{"field":"raw","type":"quantitative"}}},
   {"data":{"values":[{"e":139.6,"y":83,"t":"3 days"}]},"mark":{"type":"text","align":"left","baseline":"alphabetic","fontSize":17},"encoding":{"y":{"field":"y","type":"quantitative"},"text":{"field":"t"}}}
  ]},
 {"width":177,"height":124,"view":{"stroke":"#4a4a4a","strokeWidth":1.5},"data":{"name":"P5"},
  "encoding":{"x":{"field":"e","type":"quantitative","scale":{"domain":[130,140],"reverse":true,"nice":false,"zero":false},"axis":{"values":[140,137.5,135,132.5,130],"labelExpr":"datum.value % 5 === 0 ? datum.label : ''","format":"d","labelOverlap":false,"labelFlush":false,"tickSize":-4,"tickColor":"#555","domain":false,"labelFontSize":16,"labelPadding":5,"labelColor":"#111","title":"Binding Energy/eV","titleFontSize":20,"titlePadding":1,"titleX":83}}},
  "layer":[
   {"transform":[{"fold":["dk","lt"],"as":["k","v"]}],"mark":{"type":"line","interpolate":"monotone","strokeWidth":1.2},"encoding":{"y":{"field":"v","type":"quantitative","scale":{"domain":[0,100],"nice":false,"zero":false},"axis":null},"detail":{"field":"k"},"color":{"field":"k","type":"nominal","scale":{"domain":["dk","lt","dk2"],"range":["#4d4d4d","#b5b5b5","#4d4d4d"]},"legend":null}}},
   {"mark":{"type":"line","interpolate":"monotone","color":"#8c8c8c","strokeWidth":1.3},"encoding":{"y":{"field":"env","type":"quantitative"}}},
   {"mark":{"type":"point","filled":false,"color":"#a0a0a0","size":14,"strokeWidth":0.8},"encoding":{"y":{"field":"env","type":"quantitative"}}},
   {"mark":{"type":"line","color":"#2e2e2e","strokeWidth":0.9},"encoding":{"y":{"field":"raw","type":"quantitative"}}},
   {"data":{"values":[{"e":139.6,"y":85.5,"t":"5 days"}]},"mark":{"type":"text","align":"left","baseline":"alphabetic","fontSize":17},"encoding":{"y":{"field":"y","type":"quantitative"},"text":{"field":"t"}}}
  ]}
 ],"spacing":4,"bounds":"flush"},
{"spacing":5,
 "resolve":{"scale":{"x":"independent","y":"independent"}},
 "hconcat":[
 {"vconcat":[
  {"width":189,"height":125,"view":{"stroke":"#4a4a4a","strokeWidth":1.5},"data":{"name":"C1"},
   "encoding":{"x":{"field":"e","type":"quantitative","scale":{"domain":[280,292],"reverse":true,"nice":false,"zero":false},"axis":{"values":[290,287.5,285,282.5,280],"labels":false,"tickSize":-4,"tickColor":"#555","domain":false,"title":null}}},
   "layer":[
    {"transform":[{"fold":["dk","lt","dk2"],"as":["k","v"]}],"mark":{"type":"line","interpolate":"monotone","strokeWidth":1.2},"encoding":{"y":{"field":"v","type":"quantitative","scale":{"domain":[0,100],"nice":false,"zero":false},"axis":null},"detail":{"field":"k"},"color":{"field":"k","type":"nominal","scale":{"domain":["dk","lt","dk2"],"range":["#4d4d4d","#b5b5b5","#4d4d4d"]},"legend":null}}},
    {"mark":{"type":"line","interpolate":"monotone","color":"#8c8c8c","strokeWidth":1.3},"encoding":{"y":{"field":"env","type":"quantitative"}}},
    {"mark":{"type":"point","filled":false,"color":"#a0a0a0","size":14,"strokeWidth":0.8},"encoding":{"y":{"field":"env","type":"quantitative"}}},
    {"mark":{"type":"line","color":"#2e2e2e","strokeWidth":0.9},"encoding":{"y":{"field":"raw","type":"quantitative"}}},
    {"data":{"values":[{"e":291.5,"y":80.5,"t":"1 day"},{"e":282.0,"y":80,"t":"C"}]},"mark":{"type":"text","align":"left","baseline":"alphabetic","fontSize":17},"encoding":{"y":{"field":"y","type":"quantitative"},"text":{"field":"t"}}},
    {"data":{"values":[{"e":281.2,"y":86.5,"t":"1s"}]},"mark":{"type":"text","align":"left","baseline":"alphabetic","fontSize":11},"encoding":{"y":{"field":"y","type":"quantitative"},"text":{"field":"t"}}}
   ]},
  {"width":189,"height":122,"view":{"stroke":"#4a4a4a","strokeWidth":1.5},"data":{"name":"C3"},
   "encoding":{"x":{"field":"e","type":"quantitative","scale":{"domain":[280,292],"reverse":true,"nice":false,"zero":false},"axis":{"values":[290,287.5,285,282.5,280],"labels":false,"tickSize":-4,"tickColor":"#555","domain":false,"title":null}}},
   "layer":[
    {"transform":[{"fold":["dk","lt","dk2"],"as":["k","v"]}],"mark":{"type":"line","interpolate":"monotone","strokeWidth":1.2},"encoding":{"y":{"field":"v","type":"quantitative","scale":{"domain":[0,100],"nice":false,"zero":false},"axis":null},"detail":{"field":"k"},"color":{"field":"k","type":"nominal","scale":{"domain":["dk","lt","dk2"],"range":["#4d4d4d","#b5b5b5","#4d4d4d"]},"legend":null}}},
    {"mark":{"type":"line","interpolate":"monotone","color":"#8c8c8c","strokeWidth":1.3},"encoding":{"y":{"field":"env","type":"quantitative"}}},
    {"mark":{"type":"point","filled":false,"color":"#a0a0a0","size":14,"strokeWidth":0.8},"encoding":{"y":{"field":"env","type":"quantitative"}}},
    {"mark":{"type":"line","color":"#2e2e2e","strokeWidth":0.9},"encoding":{"y":{"field":"raw","type":"quantitative"}}},
    {"data":{"values":[{"e":291.6,"y":83,"t":"3 days"}]},"mark":{"type":"text","align":"left","baseline":"alphabetic","fontSize":17},"encoding":{"y":{"field":"y","type":"quantitative"},"text":{"field":"t"}}}
   ]},
  {"width":189,"height":119,"view":{"stroke":"#4a4a4a","strokeWidth":1.5},"data":{"name":"C5"},
   "encoding":{"x":{"field":"e","type":"quantitative","scale":{"domain":[280,292],"reverse":true,"nice":false,"zero":false},"axis":{"values":[290,287.5,285,282.5,280],"labelExpr":"datum.value % 5 === 0 ? datum.label : ''","format":"d","labelOverlap":false,"labelFlush":false,"tickSize":-4,"tickColor":"#555","domain":false,"labelFontSize":16,"labelPadding":5,"labelColor":"#111","title":"Binding Energy/eV","titleFontSize":20,"titlePadding":1}}},
   "layer":[
    {"transform":[{"fold":["dk","lt","dk2"],"as":["k","v"]}],"mark":{"type":"line","interpolate":"monotone","strokeWidth":1.2},"encoding":{"y":{"field":"v","type":"quantitative","scale":{"domain":[0,100],"nice":false,"zero":false},"axis":null},"detail":{"field":"k"},"color":{"field":"k","type":"nominal","scale":{"domain":["dk","lt","dk2"],"range":["#4d4d4d","#b5b5b5","#4d4d4d"]},"legend":null}}},
    {"mark":{"type":"line","interpolate":"monotone","color":"#8c8c8c","strokeWidth":1.3},"encoding":{"y":{"field":"env","type":"quantitative"}}},
    {"mark":{"type":"point","filled":false,"color":"#a0a0a0","size":14,"strokeWidth":0.8},"encoding":{"y":{"field":"env","type":"quantitative"}}},
    {"mark":{"type":"line","color":"#2e2e2e","strokeWidth":0.9},"encoding":{"y":{"field":"raw","type":"quantitative"}}},
    {"data":{"values":[{"e":291.6,"y":84,"t":"5 days"}]},"mark":{"type":"text","align":"left","baseline":"alphabetic","fontSize":17},"encoding":{"y":{"field":"y","type":"quantitative"},"text":{"field":"t"}}}
   ]}
  ],"spacing":5,"bounds":"flush"},
 {"vconcat":[
  {"width":186,"height":133,"view":{"stroke":"#4a4a4a","strokeWidth":1.5},"data":{"name":"A1"},
   "encoding":{"x":{"field":"e","type":"quantitative","scale":{"domain":[70,80],"reverse":true,"nice":false,"zero":false},"axis":{"values":[80,77.5,75,72.5,70],"labels":false,"tickSize":-4,"tickColor":"#555","domain":false,"title":null}}},
   "layer":[
    {"transform":[{"fold":["dk","lt"],"as":["k","v"]}],"mark":{"type":"line","interpolate":"monotone","strokeWidth":1.2},"encoding":{"y":{"field":"v","type":"quantitative","scale":{"domain":[0,100],"nice":false,"zero":false},"axis":null},"detail":{"field":"k"},"color":{"field":"k","type":"nominal","scale":{"domain":["dk","lt","dk2"],"range":["#4d4d4d","#b5b5b5","#4d4d4d"]},"legend":null}}},
    {"mark":{"type":"line","interpolate":"monotone","color":"#8c8c8c","strokeWidth":1.3},"encoding":{"y":{"field":"env","type":"quantitative"}}},
    {"mark":{"type":"point","filled":false,"color":"#a0a0a0","size":14,"strokeWidth":0.8},"encoding":{"y":{"field":"env","type":"quantitative"}}},
    {"mark":{"type":"line","color":"#2e2e2e","strokeWidth":0.9},"encoding":{"y":{"field":"raw","type":"quantitative"}}},
    {"data":{"values":[{"e":79.65,"y":84,"t":"1 day"},{"e":72.0,"y":85.5,"t":"Al"}]},"mark":{"type":"text","align":"left","baseline":"alphabetic","fontSize":17},"encoding":{"y":{"field":"y","type":"quantitative"},"text":{"field":"t"}}},
    {"data":{"values":[{"e":71.15,"y":91,"t":"2p"}]},"mark":{"type":"text","align":"left","baseline":"alphabetic","fontSize":11},"encoding":{"y":{"field":"y","type":"quantitative"},"text":{"field":"t"}}}
   ]},
  {"width":186,"height":121,"view":{"stroke":"#4a4a4a","strokeWidth":1.5},"data":{"name":"A3"},
   "encoding":{"x":{"field":"e","type":"quantitative","scale":{"domain":[70,80],"reverse":true,"nice":false,"zero":false},"axis":{"values":[80,77.5,75,72.5,70],"labels":false,"tickSize":-4,"tickColor":"#555","domain":false,"title":null}}},
   "layer":[
    {"transform":[{"fold":["dk","lt"],"as":["k","v"]}],"mark":{"type":"line","interpolate":"monotone","strokeWidth":1.2},"encoding":{"y":{"field":"v","type":"quantitative","scale":{"domain":[0,100],"nice":false,"zero":false},"axis":null},"detail":{"field":"k"},"color":{"field":"k","type":"nominal","scale":{"domain":["dk","lt","dk2"],"range":["#4d4d4d","#b5b5b5","#4d4d4d"]},"legend":null}}},
    {"mark":{"type":"line","interpolate":"monotone","color":"#8c8c8c","strokeWidth":1.3},"encoding":{"y":{"field":"env","type":"quantitative"}}},
    {"mark":{"type":"point","filled":false,"color":"#a0a0a0","size":14,"strokeWidth":0.8},"encoding":{"y":{"field":"env","type":"quantitative"}}},
    {"mark":{"type":"line","color":"#2e2e2e","strokeWidth":0.9},"encoding":{"y":{"field":"raw","type":"quantitative"}}},
    {"data":{"values":[{"e":79.6,"y":84.5,"t":"3 days"}]},"mark":{"type":"text","align":"left","baseline":"alphabetic","fontSize":17},"encoding":{"y":{"field":"y","type":"quantitative"},"text":{"field":"t"}}}
   ]},
  {"width":186,"height":118,"view":{"stroke":"#4a4a4a","strokeWidth":1.5},"data":{"name":"A5"},
   "encoding":{"x":{"field":"e","type":"quantitative","scale":{"domain":[70,80],"reverse":true,"nice":false,"zero":false},"axis":{"values":[80,77.5,75,72.5,70],"labelExpr":"datum.value % 5 === 0 ? datum.label : ''","format":"d","labelOverlap":false,"labelFlush":false,"tickSize":-4,"tickColor":"#555","domain":false,"labelFontSize":16,"labelPadding":5,"labelColor":"#111","title":"Binding Energy/eV","titleFontSize":20,"titlePadding":1}}},
   "layer":[
    {"transform":[{"fold":["dk","lt"],"as":["k","v"]}],"mark":{"type":"line","interpolate":"monotone","strokeWidth":1.2},"encoding":{"y":{"field":"v","type":"quantitative","scale":{"domain":[0,100],"nice":false,"zero":false},"axis":null},"detail":{"field":"k"},"color":{"field":"k","type":"nominal","scale":{"domain":["dk","lt","dk2"],"range":["#4d4d4d","#b5b5b5","#4d4d4d"]},"legend":null}}},
    {"mark":{"type":"line","interpolate":"monotone","color":"#8c8c8c","strokeWidth":1.3},"encoding":{"y":{"field":"env","type":"quantitative"}}},
    {"mark":{"type":"point","filled":false,"color":"#a0a0a0","size":14,"strokeWidth":0.8},"encoding":{"y":{"field":"env","type":"quantitative"}}},
    {"mark":{"type":"line","color":"#2e2e2e","strokeWidth":0.9},"encoding":{"y":{"field":"raw","type":"quantitative"}}},
    {"data":{"values":[{"e":79.4,"y":81.5,"t":"5 days"}]},"mark":{"type":"text","align":"left","baseline":"alphabetic","fontSize":17},"encoding":{"y":{"field":"y","type":"quantitative"},"text":{"field":"t"}}}
   ]}
  ],"spacing":5,"bounds":"flush"}
 ]}
]}
]
}
